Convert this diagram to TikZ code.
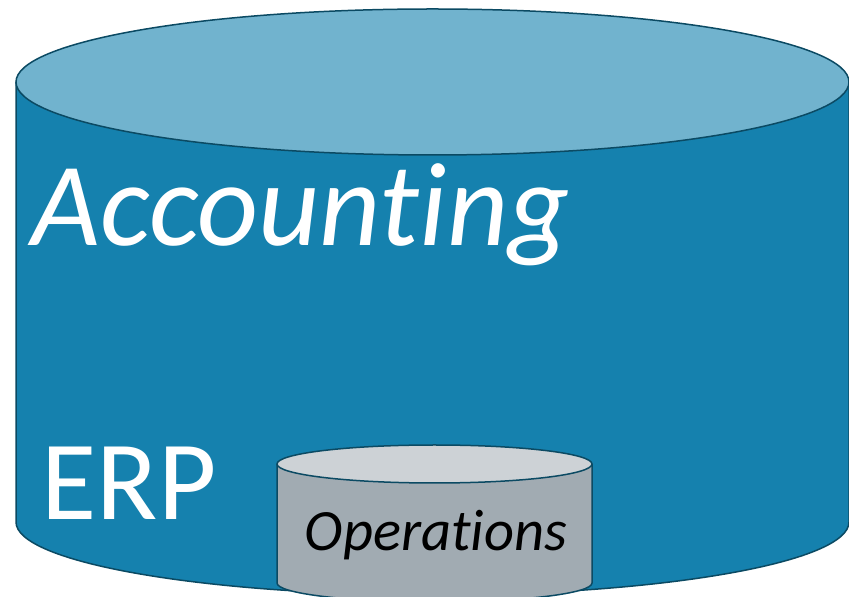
\documentclass[tikz,border=0pt]{standalone}
\usepackage{fontspec}
\setmainfont[Ligatures={NoCommon}]{Carlito}
\definecolor{erpblue}{HTML}{1581AE}
\definecolor{erptop}{HTML}{71B3CE}
\definecolor{erpline}{HTML}{0B4A63}
\definecolor{opsbody}{HTML}{A1ABB2}
\definecolor{opstop}{HTML}{CDD2D6}
\begin{document}
\begin{tikzpicture}[x=1pt,y=1pt,line width=1.5pt,
  every node/.style={inner sep=0pt,anchor=base west}]
  \useasboundingbox (0,0) rectangle (849,597);
  \clip (0,0) rectangle (849,597);
  % big cylinder
  \filldraw[fill=erpblue,draw=erpline] (16,515) -- (16,75)
    arc[start angle=180,end angle=360,x radius=416.5pt,y radius=73pt] -- (849,515);
  \filldraw[fill=erptop,draw=erpline] (432.5,515) ellipse[x radius=416.5pt,y radius=73pt];
  % small cylinder
  \filldraw[fill=opsbody,draw=erpline] (277,133) -- (277,14)
    arc[start angle=180,end angle=360,x radius=157.5pt,y radius=19pt] -- (592,133);
  \filldraw[fill=opstop,draw=erpline] (434.5,133) ellipse[x radius=157.5pt,y radius=19pt];
  % labels
  \node (acc) at (31,351) {\fontsize{119}{119}\selectfont\itshape\color{white}Accounting};
  \node (erp) at (41,77) {\fontsize{113}{113}\selectfont\color{white}ERP};
  \node (ops) at (304,46) {\fontsize{58.5}{58.5}\selectfont\itshape Operations};
\end{tikzpicture}
\end{document}
